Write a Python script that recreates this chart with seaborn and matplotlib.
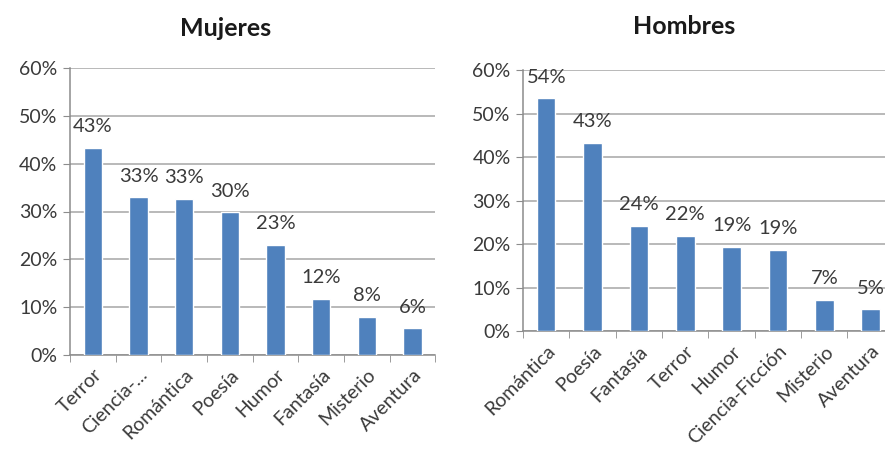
import matplotlib
matplotlib.use('Agg')
import matplotlib.pyplot as plt
from matplotlib.ticker import PercentFormatter
import pandas as pd
import seaborn as sns

sns.set_style("white")
plt.rcParams['font.family'] = ['Lato', 'DejaVu Sans']

# data (percent)
mujeres_cats = ['Terror', 'Ciencia-...', 'Romántica', 'Poesía', 'Humor', 'Fantasía', 'Misterio', 'Aventura']
mujeres_vals = [43.3, 33.0, 32.7, 29.8, 23.0, 11.8, 8.0, 5.6]
mujeres_labels = ['43%', '33%', '33%', '30%', '23%', '12%', '8%', '6%']

hombres_cats = ['Romántica', 'Poesía', 'Fantasía', 'Terror', 'Humor', 'Ciencia-Ficción', 'Misterio', 'Aventura']
hombres_vals = [53.6, 43.3, 24.2, 21.9, 19.4, 18.7, 7.2, 5.0]
hombres_labels = ['54%', '43%', '24%', '22%', '19%', '19%', '7%', '5%']

bar_color = '#4F81BD'
grid_color = '#A6A6A6'
text_color = '#3A3A3A'

fig = plt.figure(figsize=(8.85, 4.5), dpi=100)
ax1 = fig.add_axes([0.079, 0.211, 0.413, 0.638])
ax2 = fig.add_axes([0.591, 0.264, 0.419, 0.580])


def draw(ax, cats, vals, labels):
    df = pd.DataFrame({'cat': cats, 'val': vals})
    sns.barplot(data=df, x='cat', y='val', color=bar_color, width=0.4,
                saturation=1, ax=ax, zorder=3)
    ax.bar_label(ax.containers[0], labels=labels, padding=9,
                 fontsize=14.5, color=text_color)
    ax.set_ylim(0, 60)
    ax.set_xlim(-0.5, len(cats) - 0.5)
    ax.set_yticks(range(0, 61, 10))
    ax.yaxis.set_major_formatter(PercentFormatter(decimals=0))
    ax.yaxis.grid(True, color=grid_color, linewidth=1.1, zorder=0)
    ax.set_axisbelow(True)
    ax.set_xlabel('')
    ax.set_ylabel('')
    for s in ['top', 'right']:
        ax.spines[s].set_visible(False)
    for s in ['left', 'bottom']:
        ax.spines[s].set_color('#8C8C8C')
        ax.spines[s].set_linewidth(1.1)
    ax.tick_params(axis='y', length=5, color='#8C8C8C', labelsize=14,
                   labelcolor=text_color, left=True, pad=4)
    ax.set_xticks(range(len(cats)))
    ax.set_xticklabels(cats, rotation=45, ha='right', rotation_mode='anchor',
                       fontsize=14, color=text_color)
    ax.tick_params(axis='x', which='major', length=0, pad=8)
    ax.set_xticks([i - 0.5 for i in range(len(cats) + 1)], minor=True)
    ax.tick_params(axis='x', which='minor', length=5, color='#8C8C8C', bottom=True)


draw(ax1, mujeres_cats, mujeres_vals, mujeres_labels)
draw(ax2, hombres_cats, hombres_vals, hombres_labels)

fig.text(226 / 885, 1 - 28 / 450, 'Mujeres', ha='center', va='center',
         fontsize=18, fontweight='bold', color='#1a1a1a')
fig.text(684 / 885, 1 - 27 / 450, 'Hombres', ha='center', va='center',
         fontsize=18, fontweight='bold', color='#1a1a1a')

fig.savefig('out.png', dpi=100)
plt.close(fig)
